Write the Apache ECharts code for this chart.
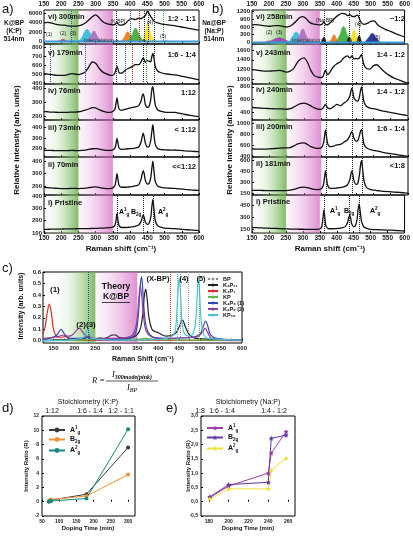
<!DOCTYPE html>
<html><head><meta charset="utf-8">
<script src="https://cdn.jsdelivr.net/npm/echarts@6/dist/echarts.min.js"></script>
<style>html,body{margin:0;padding:0;background:#fff}#c{width:413px;height:536px}</style>
</head><body><div id="c"></div>
<script>
// ---------- DATA ----------
const shifts = [150,160,170,180,190,200,210,220,230,240,250,260,270,280,290,300,310,320,330,340,350,356,359,362,365,368,375,385,395,405,415,425,432,435,438,441,444,450,455,460,463,466,469,473,480,490,500,510,520,530,545,560,575,590,600];

// K@BP spectra (panel a)
const aVi  = [3900,4000,3900,3700,3550,3450,3420,3300,3250,3250,3300,3500,3900,4500,5200,5600,5000,4200,3800,3600,3500, 3600,3800,3950,3700,3500, 3450,3700,4400,4800,4600,4900, 4800,4900,5100,5200,5400, 6300,5900,5200,4900,4600,4300,4100, 3900,3700,3600,3500,3400,3300, 3100,2900,2700,2500,2400];
const aV   = [510,505,500,495,492,490,492,500,510,505,500,510,530,585,640,625,570,530,510,495,492, 520,560,590,560,520, 515,545,570,585,610,610, 640,670,685,665,635, 655,650,640,700,735,690,590, 540,520,510,505,500,497, 485,475,462,450,440];
const aIv  = [232,230,228,227,226,225,225,226,228,228,230,235,242,250,260,258,245,235,228,226,232, 250,290,330,285,250, 240,248,255,260,265,275, 310,345,360,335,285, 262,268,320,390,412,360,280, 245,232,228,226,225,226, 218,210,203,198,195];
const aIii = [185,183,182,181,180,180,180,181,182,181,180,182,186,192,198,200,195,188,183,182,188, 205,245,297,245,205, 192,195,198,200,205,215, 265,310,345,310,255, 215,220,280,360,425,340,240, 200,190,188,186,185,186, 182,178,175,172,170];
const aIi  = [195,192,190,188,186,185,185,185,186,186,185,186,188,192,196,198,194,188,185,185,190, 210,250,300,250,210, 195,195,197,200,205,215, 260,300,325,300,250, 220,225,270,340,398,330,240, 205,195,190,188,187,186, 182,178,175,172,170];
const aI   = [130,130,131,131,132,132,133,133,134,134,135,135,136,136,137,138,139,140,141,143,148, 165,200,262,200,160, 145,145,147,150,155,165, 195,225,247,225,190, 170,180,230,310,374,300,200, 160,145,140,138,136,135, 132,128,125,122,120];

// Na@BP spectra (panel b)
const bVi  = [680,690,680,660,640,630,640,650,650,630,600,620,700,820,960,1000,920,780,720,700,680, 700,750,790,740,680, 700,820,960,1060,1130,1110, 1040,1050,1080,1060,1020, 1000,1020,1060,1040,950,850,760, 700,740,820,840,700,600, 500,420,330,260,220];
const bV   = [1200,1195,1185,1175,1170,1170,1175,1180,1185,1170,1150,1170,1220,1340,1410,1440,1350,1180,1080,1050,1040, 1080,1150,1190,1140,1100, 1150,1260,1320,1360,1440,1480, 1440,1450,1480,1450,1420, 1430,1420,1440,1480,1510,1420,1300, 1230,1210,1280,1300,1240,1170, 1090,1030,990,950,930];
const bIv  = [470,466,462,458,455,452,450,448,447,445,442,450,475,505,530,540,525,495,465,445,440, 470,500,520,495,460, 450,480,520,500,540,580, 650,720,780,720,620, 580,570,640,740,800,700,560, 490,460,450,440,425,410, 395,380,365,350,340];
const bIii = [540,538,535,535,537,540,545,550,555,558,558,565,590,625,645,650,620,580,560,550,560, 640,760,880,760,640, 580,590,615,620,660,700, 770,820,850,810,730, 680,690,780,860,885,780,620, 560,530,515,505,490,475, 460,445,430,415,405];
const bIi  = [190,188,187,186,185,185,184,184,184,184,185,190,200,215,228,232,225,210,200,198,210, 260,360,450,350,260, 215,215,220,225,235,260, 330,400,450,400,320, 270,280,400,530,590,480,320, 230,200,190,185,180,175, 170,165,160,155,150];
const bI   = [175,172,170,168,166,165,163,162,160,158,157,155,154,153,152,152,151,150,150,150,155, 190,280,395,290,195, 160,158,160,163,170,185, 240,290,330,290,220, 185,195,280,400,470,380,250, 180,160,150,148,146,145, 142,140,136,132,130];

// fitted peak components in the vi) spectra
const aPkMagenta = [[185,0],[195,200],[205,500],[215,200],[225,0]];
const aPkTeal    = [[220,0],[232,250],[244,0]];
const aPkCyan    = [[245,0],[257,600],[266,1800],[275,2550],[284,1800],[294,600],[305,0]];
const aPkViolet  = [[275,0],[285,1100],[295,2200],[305,1100],[315,0]];
const aPkBlack1  = [[355,0],[362,300],[369,0]];
const aPkOrange  = [[372,0],[382,800],[393,2050],[404,800],[414,0]];
const aPkGreen   = [[393,0],[404,1200],[416,2800],[428,1200],[440,0]];
const aPkBlack2  = [[432,0],[440,400],[448,0]];
const aPkYellow  = [[435,0],[444,1800],[452,3800],[460,1800],[469,0]];
const aPkBlue    = [[462,0],[470,200],[478,0]];
const aPkNavy    = [[488,0],[500,150],[512,0]];
const aBase      = [[150,0],[600,0]];

const bPkMagenta = [[188,0],[200,60],[212,0]];
const bPkPurple  = [[195,0],[210,90],[230,180],[250,90],[265,0]];
const bPkCyan    = [[258,0],[268,200],[280,400],[292,200],[302,0]];
const bPkViolet  = [[280,0],[290,260],[300,520],[310,260],[322,0]];
const bPkBlack1  = [[355,0],[362,200],[369,0]];
const bPkOrange  = [[378,0],[385,150],[392,300],[399,150],[406,0]];
const bPkGreen   = [[398,0],[409,300],[420,620],[431,300],[442,0]];
const bPkBlack2  = [[430,0],[437,220],[444,0]];
const bPkYellow  = [[437,0],[444,250],[451,500],[458,250],[465,0]];
const bPkBlack3  = [[459,0],[466,260],[473,0]];
const bPkNavy    = [[482,0],[493,170],[505,350],[517,170],[528,0]];
const bBase      = [[150,0],[600,0]];

// y tick labels of the sub-panels
const aYTicks = [[0,2000,4000,6000],[400,500,600,700,800],[200,300,400],[200,300,400],[200,300,400],[100,200,300,400]];
const bYTicks = [[0,300,600,900,1200],[1000,1200,1400,1600],[400,600,800],[400,600,800,1000],[150,300,450,600],[150,300,450]];
const aYRange = [[-500,6600],[395,840],[170,432],[120,470],[135,430],[100,410]];
const bYRange = [[-60,1260],[910,1720],[270,845],[395,1060],[125,640],[105,580]];

// theory curves (panel c)
const cNames = ['BP','K\u2083P\u2081\u2081','K\u2083P\u2087','KP','K\u2084P\u2086 (1)','K\u2084P\u2086 (2)','KP\u2081\u2085'];
const cBlack = [[125,0],[180,0.01],[215,0.01],[228,0.03],[235,0.04],[242,0.02],[260,0.01],[280,0.03],[290,0.05],[298,0.05],[306,0.03],[320,0.02],[340,0.03],[355,0.08],[362,0.2],[366,0.36],[370,0.45],[374,0.35],[378,0.2],[385,0.1],[392,0.08],[400,0.07],[410,0.05],[420,0.04],[440,0.06],[450,0.12],[458,0.18],[465,0.12],[475,0.05],[490,0.02],[600,0.005]];
const cRed   = [[125,0.06],[130,0.12],[135,0.24],[140,0.32],[145,0.24],[150,0.1],[155,0.05],[160,0.03],[170,0.03],[178,0.04],[185,0.02],[200,0.01],[250,0.005],[350,0.005],[600,0]];
const cGreen = [[125,0],[200,0.005],[240,0.01],[255,0.02],[262,0.03],[270,0.015],[300,0.01],[355,0.015],[370,0.02],[400,0.01],[600,0.005]];
const cBlue  = [[125,0.01],[140,0.02],[155,0.04],[162,0.07],[168,0.10],[174,0.07],[180,0.04],[195,0.02],[225,0.02],[230,0.03],[235,0.02],[260,0.01],[300,0.01],[330,0.02],[345,0.06],[352,0.2],[356,0.42],[360,0.56],[364,0.4],[368,0.2],[375,0.08],[390,0.03],[420,0.02],[480,0.03],[500,0.06],[507,0.12],[513,0.17],[519,0.12],[525,0.05],[540,0.02],[600,0.005]];
const cPurple= [[125,0.02],[150,0.03],[165,0.04],[175,0.05],[185,0.04],[195,0.05],[205,0.09],[212,0.11],[219,0.08],[228,0.04],[245,0.02],[300,0.02],[335,0.04],[345,0.1],[350,0.2],[354,0.38],[357,0.48],[361,0.38],[366,0.18],[375,0.06],[400,0.02],[490,0.03],[505,0.07],[512,0.11],[518,0.07],[528,0.02],[600,0.005]];
const cCyan  = [[125,0],[200,0.01],[222,0.03],[228,0.07],[232,0.1],[236,0.07],[242,0.02],[300,0.005],[400,0.01],[420,0.02],[430,0.04],[437,0.05],[442,0.12],[446,0.35],[450,0.55],[454,0.35],[458,0.12],[465,0.05],[475,0.04],[485,0.08],[490,0.2],[493,0.4],[496,0.55],[499,0.4],[502,0.2],[508,0.06],[520,0.02],[600,0.005]];
const cYTicks = [0,0.1,0.2,0.3,0.4,0.5,0.6];

// intensity ratios (panels d, e)
const dTime = [70,73,76,179,300];
const dA1 = [0.05,0.12,0.22,1.05,7.6];
const dB2 = [0.1,0.2,0.3,0.8,3.8];
const dA2 = [0.0,0.05,0.1,0.45,10.15];
const dStoich = ['1:12','1:6 - 1:4','1:2 - 1:1'];
const eTime = [181,200,240,243,258];
const eA1 = [0.15,0.55,1.0,1.7,2.45];
const eB2 = [0.17,0.6,0.68,2.22,2.33];
const eA2 = [0.1,0.45,0.45,1.1,1.52];
const eStoich = ['1:8','1:6 - 1:4','1:4 - 1:2'];
const eXTicks = [180,200,220,240,260];

// ---------- BUILD ----------
const FONT = 'Liberation Sans, Arial, sans-serif';
const grids=[], xAxes=[], yAxes=[], series=[], G=[];
const subTops=[10,44,84,120,157,195], subH=[34,40,36,37,38,38];
const greenGrad = {type:'linear',x:0,y:0,x2:1,y2:0,colorStops:[{offset:0,color:'rgba(170,215,150,0)'},{offset:0.35,color:'rgba(160,210,140,0.2)'},{offset:1,color:'rgba(105,175,75,0.85)'}]};
const pinkGrad  = {type:'linear',x:0,y:0,x2:1,y2:0,colorStops:[{offset:0,color:'rgba(240,195,232,0.15)'},{offset:1,color:'rgba(208,95,192,0.7)'}]};
const rich = {
  m:{fontSize:7,fontWeight:'bold',fontFamily:FONT,lineHeight:10,verticalAlign:'middle',color:'#111'},
  sp:{fontSize:4.5,fontWeight:'bold',fontFamily:FONT,lineHeight:5,verticalAlign:'top',color:'#111'},
  sb:{fontSize:4.5,fontWeight:'bold',fontFamily:FONT,lineHeight:5,verticalAlign:'bottom',color:'#111'}
};
const plain = v => String(v);

function specGrid(left, width, k, yr, yt){
  const gi = grids.length;
  grids.push({left, top:subTops[k], width, height:subH[k], show:true, borderColor:'#000', borderWidth:1});
  xAxes.push({type:'value', gridIndex:gi, min:150, max:600, interval:50, position:k===0?'top':'bottom',
    axisLine:{show:false}, axisTick:{inside:true,length:2,lineStyle:{color:'#000'}},
    axisLabel:{show:k===0||k===5, fontSize:6.5, fontWeight:'bold', color:'#222', margin:2, fontFamily:FONT, formatter:plain},
    splitLine:{show:false}});
  yAxes.push({type:'value', gridIndex:gi, min:yr[0], max:yr[1], axisLine:{show:false},
    axisTick:{inside:true,length:2,customValues:yt,lineStyle:{color:'#000'}},
    axisLabel:{customValues:yt, fontSize:6, fontWeight:'bold', color:'#222', margin:2, fontFamily:FONT, formatter:plain},
    splitLine:{show:false}});
  return gi;
}
function specSeries(gi, vals, lines){
  series.push({type:'line', xAxisIndex:gi, yAxisIndex:gi, data:shifts.map((x,i)=>[x,vals[i]]), symbol:'none', smooth:0.25,
    lineStyle:{color:'#111', width:1.3}, z:4, silent:true,
    markArea:{silent:true, data:[[{xAxis:150,itemStyle:{color:greenGrad}},{xAxis:250}],[{xAxis:250,itemStyle:{color:pinkGrad}},{xAxis:350}]]},
    markLine:{silent:true, symbol:['none','none'], label:{show:false}, animation:false,
      data:lines.map(l=>({xAxis:l[0], lineStyle:{color:l[1], type:'dotted', width:1}}))}});
}
function fillSeries(gi, pts, color){
  series.push({type:'line', xAxisIndex:gi, yAxisIndex:gi, data:pts, symbol:'none', smooth:0.5,
    lineStyle:{width:0.5,color}, areaStyle:{color, opacity:0.95}, z:3, silent:true});
}
const BLU='#3050c0', BLK='#222', RED='#d02020', GRN='#40a040';
const aLines = [
  [[230,BLU],[361,BLK],[400,BLU],[427,RED],[440,BLK],[453,BLK],[469,BLK],[496,GRN]],
  [[167,BLU],[269,BLU],[361,BLK],[387,BLU],[407,RED],[438,BLK],[448,GRN],[469,BLK]],
  [],[],[],
  [[362,BLK],[438,BLK],[466,BLK]]
];
const bL = [[363,BLK],[438,BLK],[467,BLK]];
const aSpec=[aVi,aV,aIv,aIii,aIi,aI], bSpec=[bVi,bV,bIv,bIii,bIi,bI];
for(let k=0;k<6;k++){
  const gi = specGrid(44,155,k,aYRange[k],aYTicks[k]);
  if(k===0){
    [[aPkMagenta,'#d0308a'],[aPkTeal,'#4aa0c8'],[aPkCyan,'#38bcd8'],[aPkViolet,'#b070c0'],[aPkBlack1,'#111'],[aPkOrange,'#f07a20'],[aPkGreen,'#3fb040'],[aPkYellow,'#f0e020'],[aPkBlack2,'#111'],[aPkBlue,'#2040a0'],[aPkNavy,'#203090']].forEach(p=>fillSeries(gi,p[0],p[1]));
    series.push({type:'line',xAxisIndex:gi,yAxisIndex:gi,data:aBase,symbol:'none',lineStyle:{color:'#3a9ad8',width:2},z:3,silent:true});
  }
  specSeries(gi,aSpec[k],aLines[k]);
}
for(let k=0;k<6;k++){
  const gi = specGrid(252,156,k,bYRange[k],bYTicks[k]);
  if(k===0){
    [[bPkMagenta,'#d0308a'],[bPkPurple,'#9a4ab0'],[bPkCyan,'#38bcd8'],[bPkViolet,'#b070c0'],[bPkBlack1,'#111'],[bPkOrange,'#f07a20'],[bPkGreen,'#3fb040'],[bPkYellow,'#f0e020'],[bPkBlack2,'#111'],[bPkBlack3,'#111'],[bPkNavy,'#203090']].forEach(p=>fillSeries(gi,p[0],p[1]));
    series.push({type:'line',xAxisIndex:gi,yAxisIndex:gi,data:bBase,symbol:'none',lineStyle:{color:'#3a9ad8',width:2},z:3,silent:true});
  }
  specSeries(gi,bSpec[k],bL);
}

// panel c
const gc = grids.length;
grids.push({left:43, top:272, width:199, height:71, show:true, borderColor:'#000', borderWidth:1});
xAxes.push({type:'value', gridIndex:gc, min:125, max:600, interval:25, axisLine:{show:false},
  axisTick:{inside:true,length:2,lineStyle:{color:'#000'}},
  axisLabel:{fontSize:6, fontWeight:'bold', color:'#222', margin:2, fontFamily:FONT, formatter:v=>v%50===0?String(v):''},
  splitLine:{show:false}});
yAxes.push({type:'value', gridIndex:gc, min:-0.02, max:0.6, axisLine:{show:false},
  axisTick:{inside:true,length:2,customValues:cYTicks,lineStyle:{color:'#000'}},
  axisLabel:{customValues:cYTicks, fontSize:6, fontWeight:'bold', color:'#222', margin:2, fontFamily:FONT, formatter:v=>v.toFixed(1)},
  splitLine:{show:false}});
function cSer(name, pts, color, width, lines, extra){
  const s = {type:'line', name, xAxisIndex:gc, yAxisIndex:gc, data:pts, symbol:'none', smooth:0.4,
    lineStyle:{color, width}, itemStyle:{color}, z:4, silent:true};
  if(lines) s.markLine = {silent:true, symbol:['none','none'], label:{show:false},
    data:lines.map(l=>({xAxis:l, lineStyle:{color, type:'dotted', width:1}}))};
  Object.assign(s, extra||{});
  series.push(s);
}
cSer(cNames[0], [], '#999', 1, [452,472], {lineStyle:{color:'#888',width:1,type:'dotted'}});
cSer(cNames[1], cBlack, '#222', 1.2, null, {markArea:{silent:true, data:[[{xAxis:150,itemStyle:{color:greenGrad}},{xAxis:250}],[{xAxis:250,itemStyle:{color:pinkGrad}},{xAxis:350}]]}});
cSer(cNames[2], cRed, '#e02828', 1.2, [428]);
cSer(cNames[3], cGreen, '#5cb848', 1.2, [497]);
cSer(cNames[4], cBlue, '#3048b0', 1.2, [232]);
cSer(cNames[5], cPurple, '#9040a0', 1.2, null);
cSer(cNames[6], cCyan, '#48c4d8', 1.2, [445]);

// panel d
const gd = grids.length;
grids.push({left:42, top:416, width:93, height:100, show:true, borderColor:'#000', borderWidth:1});
xAxes.push({type:'value', gridIndex:gd, min:50, max:320, interval:50, axisLine:{show:false},
  axisTick:{inside:true,length:2,lineStyle:{color:'#000'}},
  axisLabel:{fontSize:5, fontWeight:'bold', color:'#222', margin:3, fontFamily:FONT, showMaxLabel:false},
  splitLine:{show:false}});
yAxes.push({type:'value', gridIndex:gd, min:-2, max:12, interval:2, axisLine:{show:false},
  axisTick:{inside:true,length:2,lineStyle:{color:'#000'}},
  axisLabel:{fontSize:5, fontWeight:'bold', color:'#222', margin:3, fontFamily:FONT},
  splitLine:{show:false}});
function rSer(name, gi, xs, ys, color, sym, size){
  series.push({type:'line', name, xAxisIndex:gi, yAxisIndex:gi, data:xs.map((x,i)=>[x,ys[i]]),
    symbol:sym, symbolSize:size, lineStyle:{color,width:1}, itemStyle:{color}, z:4, silent:true});
}
rSer('dA1', gd, dTime, dA1, '#3a3a3a', 'circle', 4);
rSer('dB2', gd, dTime, dB2, '#f39033', 'circle', 4);
rSer('dA2', gd, dTime, dA2, '#16877f', 'circle', 4);

// panel e
const ge = grids.length;
grids.push({left:201, top:416, width:94, height:100, show:true, borderColor:'#000', borderWidth:1});
xAxes.push({type:'value', gridIndex:ge, min:172, max:267, axisLine:{show:false},
  axisTick:{inside:true,length:2,customValues:eXTicks,lineStyle:{color:'#000'}},
  axisLabel:{customValues:eXTicks, fontSize:5, fontWeight:'bold', color:'#222', margin:3, fontFamily:FONT},
  splitLine:{show:false}});
yAxes.push({type:'value', gridIndex:ge, min:-0.5, max:3.0, interval:0.5, axisLine:{show:false},
  axisTick:{inside:true,length:2,lineStyle:{color:'#000'}},
  axisLabel:{fontSize:5, fontWeight:'bold', color:'#222', margin:3, fontFamily:FONT, formatter:v=>v.toFixed(1).replace('.',',')},
  splitLine:{show:false}});
const STAR='path://M0,-10L2.9,-4L9.5,-3.1L4.8,1.5L5.9,8.1L0,5L-5.9,8.1L-4.8,1.5L-9.5,-3.1L-2.9,-4Z';
rSer('eA1', ge, eTime, eA1, '#a03ca8', STAR, 5);
rSer('eB2', ge, eTime, eB2, '#6236a6', STAR, 5);
rSer('eA2', ge, eTime, eA2, '#f2e03c', STAR, 5);

const legLabel = {dA1:'{m|A}{sp|1}{sb|g}', dB2:'{m|B}{sb|2g}', dA2:'{m|A}{sp|2}{sb|g}',
                  eA1:'{m|A}{sp|1}{sb|g}', eB2:'{m|B}{sb|2g}', eA2:'{m|A}{sp|2}{sb|g}'};

// ---------- TEXT ----------
function T(text,x,y,size,o){G.push({type:'text',x,y,z:100,silent:true,style:Object.assign({text,fontSize:size,fontFamily:FONT,fill:'#111',align:'left',verticalAlign:'middle'},o||{})});}
const B={fontWeight:'bold'};
const BC={fontWeight:'bold',align:'center'};
const BR={fontWeight:'bold',align:'right'};
function R(text,x,y){G.push({type:'text',x,y,z:100,silent:true,style:{text,rich,align:'left',verticalAlign:'middle'}});}
function ROT(text,x,y,size){G.push({type:'text',x,y,rotation:Math.PI/2,z:100,silent:true,style:{text,fontSize:size,fontFamily:FONT,fontWeight:'bold',fill:'#111',align:'center',verticalAlign:'middle'}});}

// a
T('a)',2,9,13);
T('K@BP',14,23,6.5,BC); T('(K:P)',14,31,6.5,BC); T('514nm',14,39,6.5,BC);
T('vi) 300min',48,17,7.5,B); T('1:2 - 1:1',196,19,7.5,BR);
T('(K-BP)',118,22,5,{align:'center'});
T('(1)',46,35,5); T('(2)',60,34,5); T('(3)',70,34,5); T('(4)',147,23,5); T('(5)',160,37,5);
T('Intercalation',84,40,5.5,{fill:'#333'});
T('v) 179min',48,53,7.5,B); T('1:6 - 1:4',196,55,7.5,BR);
T('iv) 76min',48,91,7.5,B); T('1:12',196,93,7.5,BR);
T('iii) 73min',48,128,7.5,B); T('< 1:12',196,130,7.5,BR);
T('ii) 70min',48,165,7.5,B); T('<<1:12',196,167,7.5,BR);
T('i) Pristine',48,203,7.5,B);
R('{m|A}{sp|1}{sb|g}',119,212); R('{m|B}{sb|2g}',131,212); R('{m|A}{sp|2}{sb|g}',158,212);
ROT('Relative intensity (arb. units)',17,140,8);
T('Raman shift (cm\u207B\u00B9)',121,249,8,BC);
// b
T('b)',212,9,13);
T('Na@BP',214,23,6.5,BC); T('(Na:P)',214,31,6.5,BC); T('514nm',214,39,6.5,BC);
T('vi) 258min',256,17,7.5,B); T('~1:2',405,19,7.5,BR);
T('(Na-BP)',325,21,5,{align:'center'});
T('(2)',266,33,5); T('(3)',276,33,5); T('(4)',355,25,5); T('(5)',374,38,5);
T('Intercalation',292,40,5.5,{fill:'#333'});
T('v) 243min',256,53,7.5,B); T('1:4 - 1:2',405,55,7.5,BR);
T('iv) 240min',256,90,7.5,B); T('1:4 - 1:2',405,92,7.5,BR);
T('iii) 200min',256,127,7.5,B); T('1:6 - 1:4',405,129,7.5,BR);
T('ii) 181min',256,164,7.5,B); T('<1:8',405,166,7.5,BR);
T('i) Pristine',256,202,7.5,B);
R('{m|A}{sp|1}{sb|g}',330,211); R('{m|B}{sb|2g}',344,211); R('{m|A}{sp|2}{sb|g}',370,211);
ROT('Relative intensity (arb. units)',230,140,8);
T('Raman shift (cm\u207B\u00B9)',330,249,8,BC);
// c
T('c)',2,268,13);
ROT('Intensity (arb. units)',21,306,7);
T('Raman Shift (cm\u207B\u00B9)',143,359,7,BC);
T('(1)',50,290,8,B); T('(2)(3)',86,325,8,BC);
T('Theory',116,287,8.5,BC); T('K@BP',116,297,8.5,BC);
G.push({type:'line',z:100,silent:true,shape:{x1:102,y1:302.5,x2:130,y2:302.5},style:{stroke:'#111',lineWidth:0.8}});
T('(X-BP)',158,279,7.5,BC); T('(4)',184,279,7.5,BC); T('(5)',201,279,7.5,BC);
// formula
const serif='Liberation Serif, DejaVu Serif, serif';
T('R =',92,381,8.5,{fontStyle:'italic',fontFamily:serif});
G.push({type:'text',x:132,y:375,z:100,silent:true,style:{text:'{i|I}{s|300mode(pink)}',align:'center',verticalAlign:'middle',
  rich:{i:{fontSize:8.5,fontStyle:'italic',fontFamily:serif,lineHeight:10,verticalAlign:'middle'},s:{fontSize:6,fontStyle:'italic',fontWeight:'bold',fontFamily:serif,lineHeight:6,verticalAlign:'bottom'}}}});
G.push({type:'line',z:100,silent:true,shape:{x1:106,y1:381,x2:158,y2:381},style:{stroke:'#111',lineWidth:0.7}});
G.push({type:'text',x:132,y:388,z:100,silent:true,style:{text:'{i|I}{s|BP}',align:'center',verticalAlign:'middle',
  rich:{i:{fontSize:8.5,fontStyle:'italic',fontFamily:serif,lineHeight:10,verticalAlign:'middle'},s:{fontSize:6,fontStyle:'italic',fontFamily:serif,lineHeight:6,verticalAlign:'bottom'}}}});
// d
T('d)',2,408,13);
T('Stoichiometry (K:P)',88,402,7,{align:'center'});
T(dStoich[0],52,411,7,{align:'center'}); T(dStoich[1],90,411,7,{align:'center'}); T(dStoich[2],121,411,7,{align:'center'});
T('Doping Time (min)',88,528,6,BC);
ROT('Intensity Ratio (R)',26,466,6);
// e
T('e)',166,408,13);
T('Stoichiometry (Na:P)',248,402,7,{align:'center'});
T(eStoich[0],200,411,7,{align:'center'}); T(eStoich[1],222,411,7,{align:'center'}); T(eStoich[2],274,411,7,{align:'center'});
T('Doping Time (min)',248,528,6,BC);
ROT('Intensity Ratio (R)',188,466,6);

const chart = echarts.init(document.getElementById('c'), null, {renderer:'canvas'});
chart.setOption({
  animation:false,
  backgroundColor:'#fff',
  textStyle:{fontFamily:FONT},
  grid:grids, xAxis:xAxes, yAxis:yAxes, series,
  legend:[
    {data:cNames, orient:'vertical', left:207, top:276, itemWidth:10, itemHeight:4, itemGap:0, padding:0,
     textStyle:{fontSize:5.5, fontWeight:'bold', fontFamily:FONT, color:'#111', lineHeight:6}, selectedMode:false},
    {data:['dA1','dB2','dA2'], orient:'vertical', left:48, top:425, itemWidth:16, itemHeight:6, itemGap:1, padding:0, selectedMode:false,
     formatter:n=>legLabel[n], textStyle:{rich}},
    {data:['eA1','eB2','eA2'], orient:'vertical', left:206, top:423, itemWidth:16, itemHeight:6, itemGap:1, padding:0, selectedMode:false,
     formatter:n=>legLabel[n], textStyle:{rich}}
  ],
  graphic:G
});
</script></body></html>
